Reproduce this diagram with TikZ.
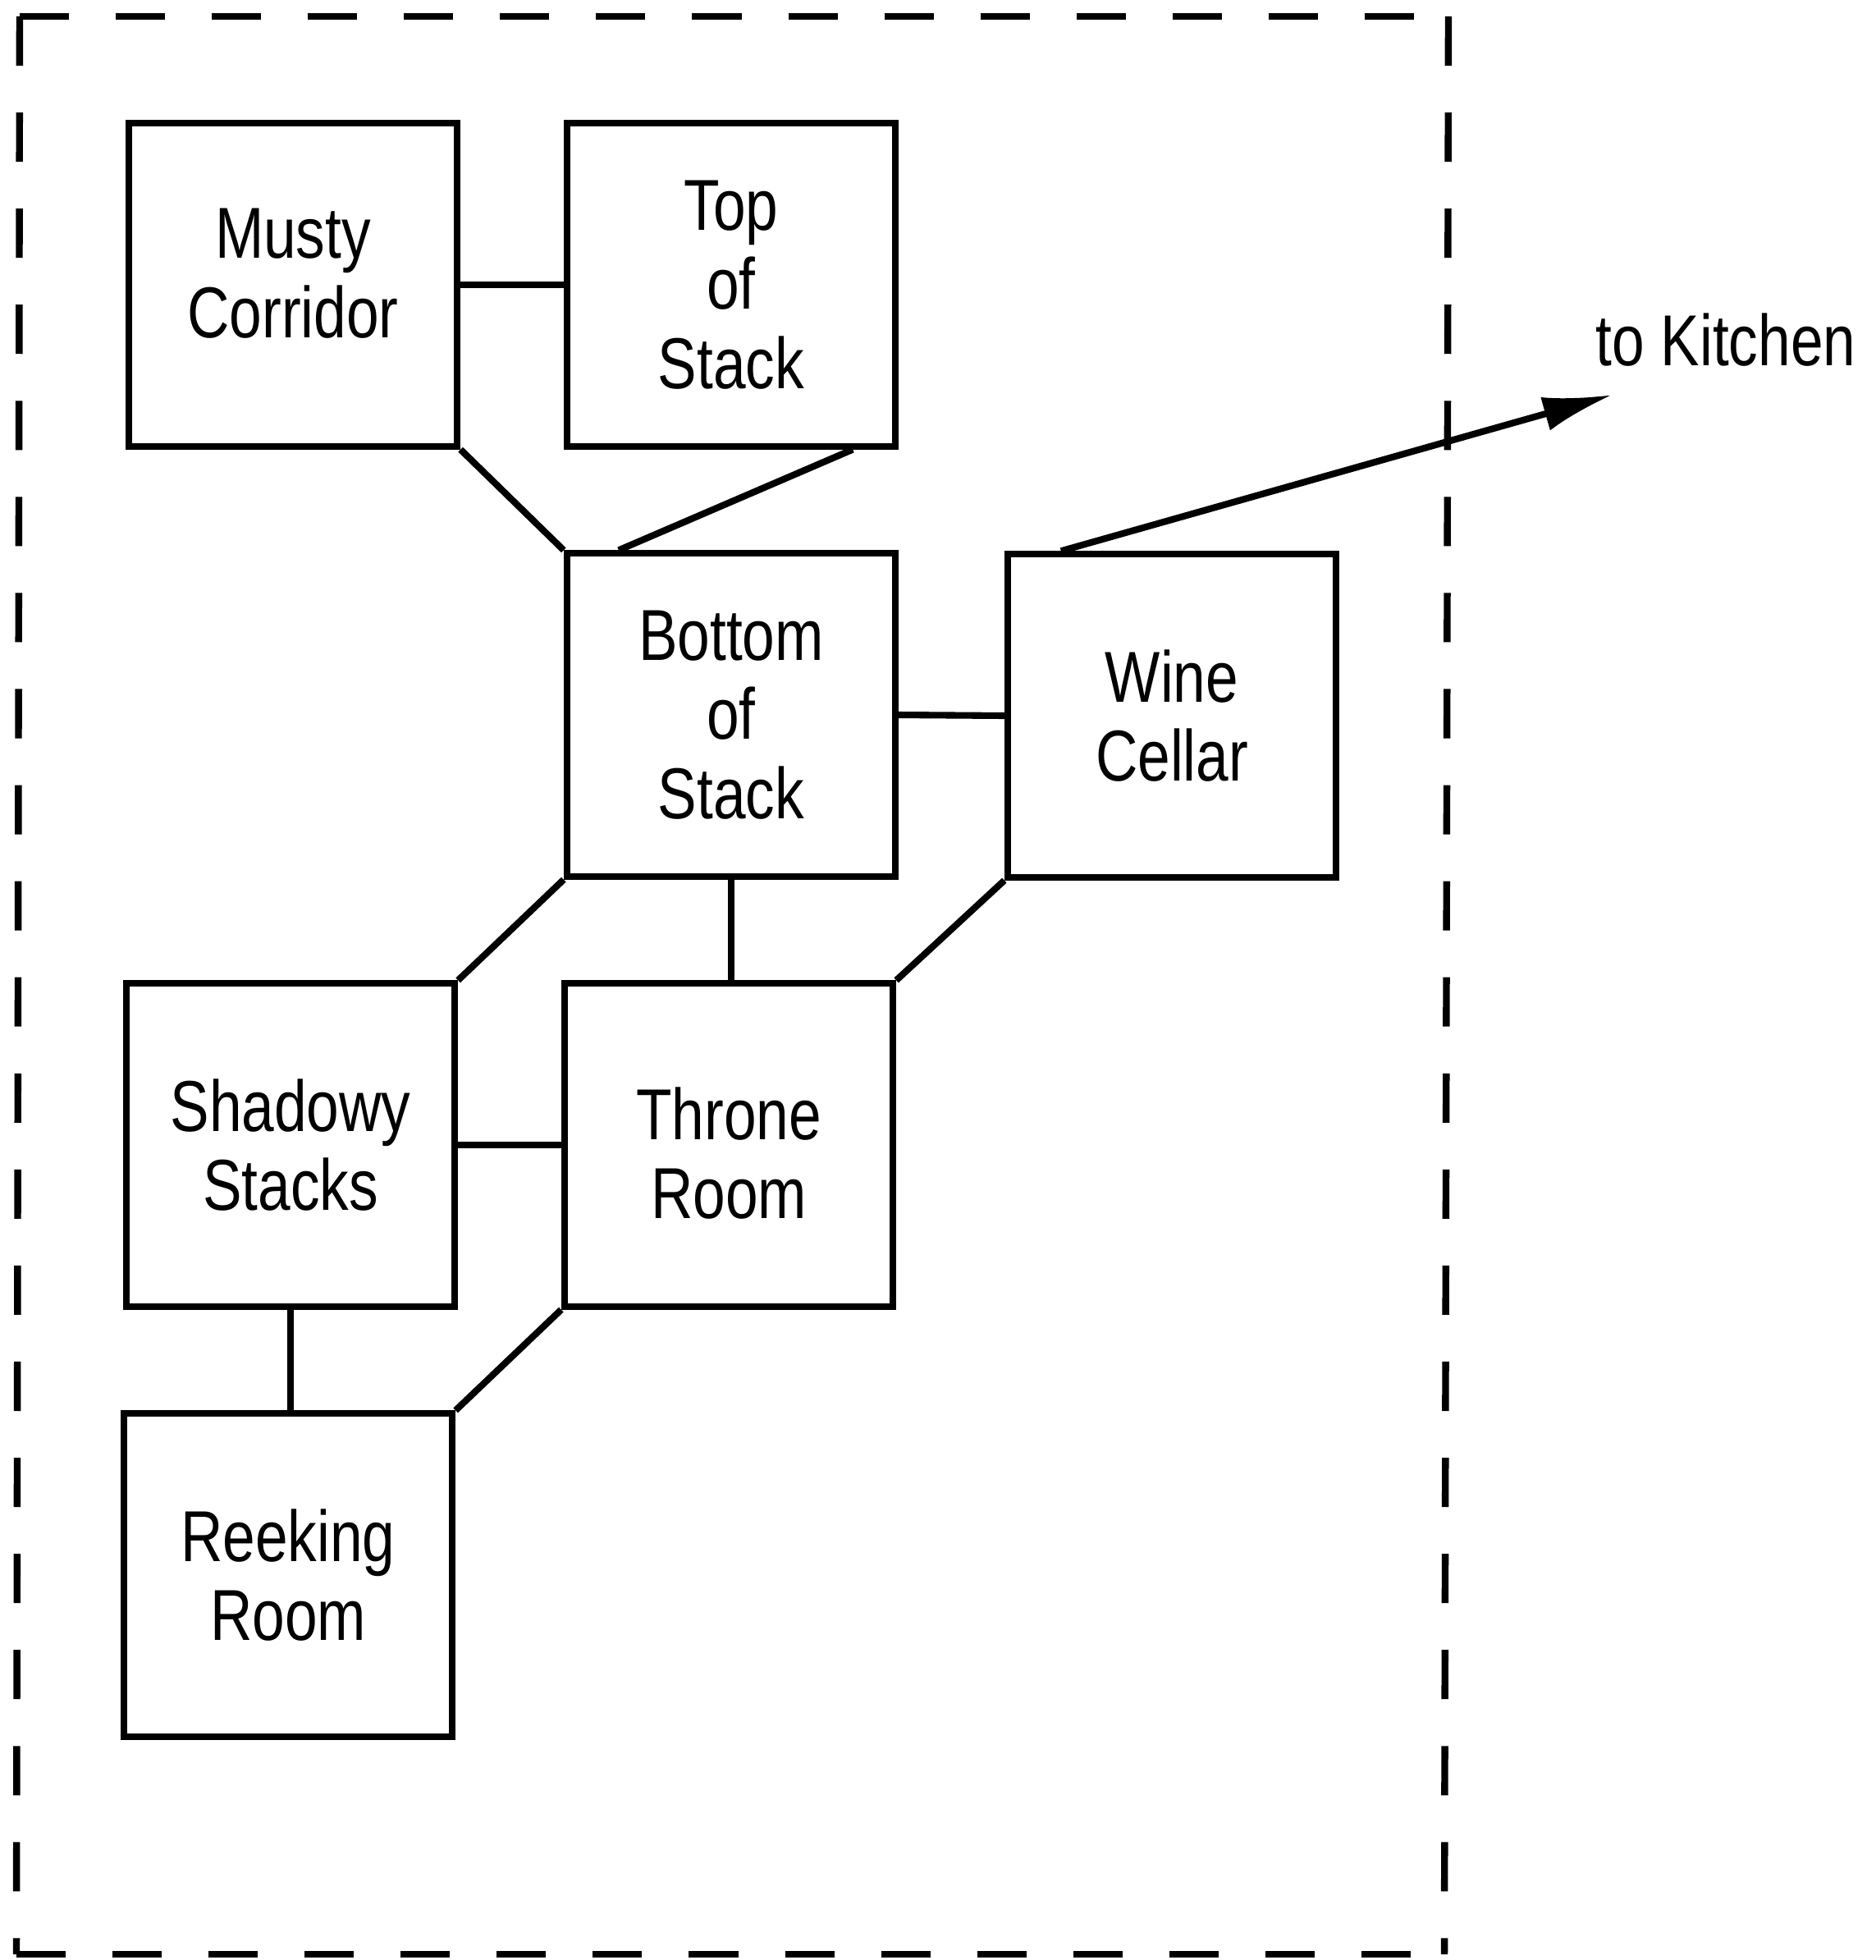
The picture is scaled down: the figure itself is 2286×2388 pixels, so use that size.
\documentclass[tikz,border=0pt]{standalone}
\usepackage{fontspec}
\setmainfont[FakeStretch=0.81]{Liberation Sans}
\usetikzlibrary{arrows.meta}
\newcommand\liftedtext[2]{\raisebox{#1}[\height][\depth]{\begin{tabular}{@{}c@{}}#2\end{tabular}}}
\begin{document}
\begin{tikzpicture}[x=0.01cm,y=-0.01cm,
  roomfont/.style={font=\fontsize{25}{27.5}\selectfont},
  room/.style={draw, line width=2.3pt, minimum width=4cm, minimum height=3.93cm,
    align=center, inner sep=0pt, roomfont},
  link/.style={line width=2.3pt},
  border/.style={line width=2.4pt, dash pattern=on 0.6cm off 0.57cm}]
\useasboundingbox (0,0) rectangle (2286,2388);

% border
\coordinate (tl) at (24,20);
\coordinate (tr) at (1765,20);
\coordinate (bl) at (20,2381);
\coordinate (br) at (1760,2381);
\draw[border] (tl) -- (tr);
\draw[border] (tl) -- (bl);
\draw[border] (bl) -- (br);
\draw[border] (tr) -- (br);

% rooms
\node[room] (musty)   at (357,347)   {\liftedtext{0.03cm}{Musty\\Corridor}};
\node[room] (top)     at (891,347)   {Top\\of\\Stack};
\node[room] (bottom)  at (891,871)   {Bottom\\of\\Stack};
\node[room] (wine)    at (1428,872)  {Wine\\Cellar};
\node[room] (shadowy) at (354,1395)  {Shadowy\\Stacks};
\node[room] (throne)  at (888,1395)  {\liftedtext{-0.22cm}{Throne\\Room}};
\node[room] (reeking) at (351,1919)  {Reeking\\Room};

% connectors
\draw[link] (musty.east) -- (top.west);
\draw[link] (musty.south east) -- (bottom.north west);
\draw[link] ([xshift=-0.56cm]top.south east) -- ([xshift=0.67cm]bottom.north west);
\draw[link] (bottom.east) -- (wine.west);
\draw[link] (bottom.south west) -- (shadowy.north east);
\draw[link] (bottom.south) -- (bottom.south |- throne.north);
\draw[link] (wine.south west) -- (throne.north east);
\draw[link] (shadowy.east) -- (throne.west);
\draw[link] (shadowy.south) -- (shadowy.south |- reeking.north);
\draw[link] (throne.south west) -- (reeking.north east);

% exit
\coordinate (kitchen) at (1965,481);
\draw[link, -{Latex[length=0.85cm,width=0.42cm]}] ([xshift=0.69cm]wine.north west) -- (kitchen);
\node[roomfont, anchor=base, inner sep=0pt] (kitchenlabel) at (2103,445) {to Kitchen};
\end{tikzpicture}
\end{document}
